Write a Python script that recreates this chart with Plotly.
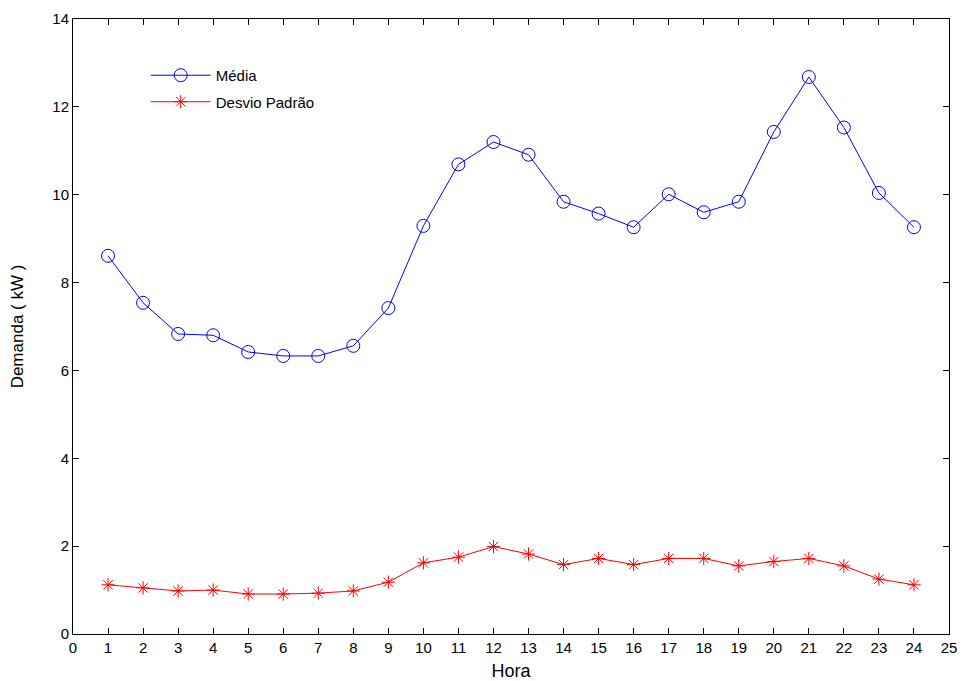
import plotly.graph_objects as go

horas = list(range(1, 25))
media = [8.61, 7.54, 6.83, 6.80, 6.42, 6.33, 6.33, 6.56, 7.42, 9.29, 10.69, 11.20,
         10.91, 9.84, 9.57, 9.26, 10.01, 9.60, 9.84, 11.43, 12.68, 11.53, 10.04, 9.26]
desvio = [1.12, 1.05, 0.98, 1.00, 0.91, 0.91, 0.93, 0.98, 1.18, 1.62, 1.75, 1.99,
          1.82, 1.58, 1.72, 1.58, 1.72, 1.72, 1.55, 1.65, 1.72, 1.55, 1.25, 1.12]
x_ticks = list(range(0, 26))
y_ticks = [0, 2, 4, 6, 8, 10, 12, 14]

fig = go.Figure()
fig.add_trace(go.Scatter(
    x=horas, y=media, mode="lines+markers", name="Média", legendgroup="m",
    line=dict(color="#0000ff", width=1),
    marker=dict(symbol="circle-open", size=13, color="#0000ff", line=dict(width=1)),
))
fig.add_trace(go.Scatter(
    x=horas, y=desvio, mode="lines+markers", name="Desvio Padrão", legendgroup="d",
    line=dict(color="#ff0000", width=1),
    marker=dict(symbol="asterisk-open", size=11, color="#ff0000", line=dict(width=1, color="#ff0000")),
))

axis_common = dict(
    showgrid=False, zeroline=False, showline=True, linecolor="black", linewidth=1,
    mirror="ticks", ticks="inside", ticklen=6, tickcolor="black", automargin=False,
    tickfont=dict(family="Liberation Sans, Arial", size=15, color="black"),
)
fig.update_xaxes(range=[0, 25], tickvals=x_ticks, ticktext=[str(v) for v in x_ticks],
                 title=dict(text="Hora", font=dict(family="Liberation Sans, Arial", size=18, color="black"), standoff=12),
                 **axis_common)
fig.update_yaxes(range=[0, 14], tickvals=y_ticks, ticktext=[str(v) for v in y_ticks],
                 title=dict(text="Demanda ( kW )", font=dict(family="Liberation Sans, Arial", size=17, color="black"), standoff=24),
                 **axis_common)

fig.update_layout(
    width=964, height=681,
    margin=dict(l=73, r=15, t=19, b=47),
    plot_bgcolor="white", paper_bgcolor="white",
    showlegend=True,
    legend=dict(x=0.083, y=0.935, xanchor="left", yanchor="top",
                bgcolor="rgba(0,0,0,0)", borderwidth=0,
                font=dict(family="Liberation Sans, Arial", size=15, color="black"),
                tracegroupgap=4, itemwidth=60),
)

fig.write_html(
    "out.html",
    config={"displayModeBar": False},
    post_script="document.documentElement.style.overflow='hidden';"
                "document.body.style.margin='0';document.body.style.overflow='hidden';",
)
